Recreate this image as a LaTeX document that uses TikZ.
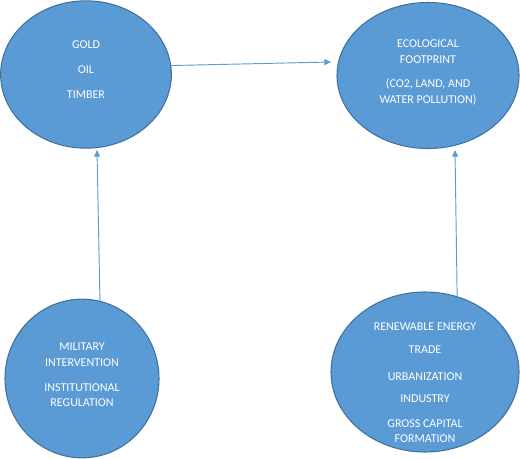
\documentclass[tikz,border=0pt]{standalone}
\usepackage{fontspec}
\setmainfont{Carlito}
\usetikzlibrary{arrows.meta,shapes.geometric}
\definecolor{ofill}{HTML}{5B9BD5}
\definecolor{oline}{HTML}{41719C}
\definecolor{oarrow}{HTML}{5B9BD5}
\begin{document}
\begin{tikzpicture}[x=0.75pt,y=-0.75pt,
  blob/.style={ellipse,draw=oline,fill=ofill,line width=0.8pt,inner sep=0pt},
  txt/.style={text=white,align=center,inner sep=0pt,font=\fontsize{9}{11.6}\selectfont},
  conn/.style={draw=oarrow,line width=0.7pt,-{Triangle[length=5pt,width=4.5pt]}}]
\useasboundingbox (0,0) rectangle (520,459);
\node[blob,minimum width=128pt,minimum height=110.5pt] (A) at (86,74.5) {};
\node[blob,minimum width=136.5pt,minimum height=109.5pt] (B) at (428,75.5) {};
\node[blob,minimum width=115.5pt,minimum height=119pt] (C) at (82,378.5) {};
\node[blob,minimum width=141pt,minimum height=120pt] (D) at (425,372) {};
\node[txt] (tA) at (86,70) {GOLD\\[7.15pt]OIL\\[7.15pt]TIMBER};
\node[txt] (tB) at (428,72.5) {ECOLOGICAL\\FOOTPRINT\\[6.9pt](CO2, LAND, AND\\WATER POLLUTION)};
\node[txt] (tC) at (82,375) {MILITARY\\INTERVENTION\\[7.1pt]INSTITUTIONAL\\REGULATION};
\node[txt] (tD) at (425,383) {RENEWABLE ENERGY\\[5.6pt]TRADE\\[8.6pt]URBANIZATION\\[4.9pt]INDUSTRY\\[7.1pt]GROSS CAPITAL\\FORMATION};
\coordinate (a1) at (331,62);
\coordinate (a2) at (97,150);
\coordinate (a3) at (455,150);
\draw[conn] (A.6) -- (a1);
\draw[conn] (C.77) -- (a2);
\draw[conn] (D.67.6) -- (a3);
\end{tikzpicture}
\end{document}
